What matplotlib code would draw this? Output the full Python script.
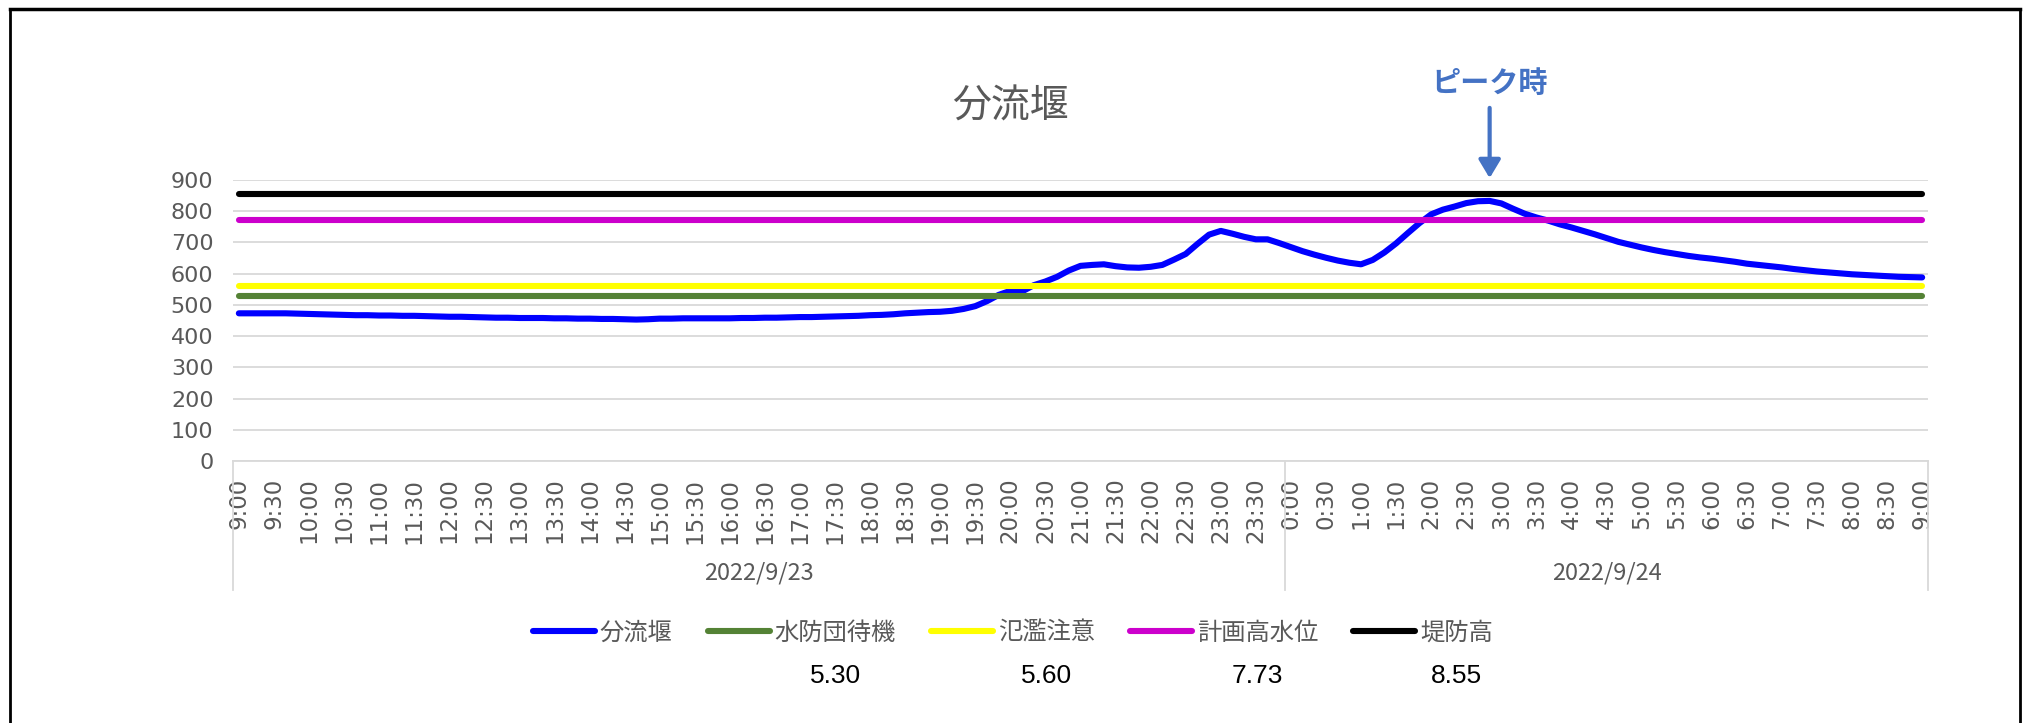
import numpy as np
import pandas as pd
import matplotlib
matplotlib.use("Agg")
import matplotlib.pyplot as plt
from matplotlib.lines import Line2D

plt.rcParams['font.family'] = ['Noto Sans CJK JP', 'DejaVu Sans']

# 10-minute readings, 2022/9/23 9:00 -> 2022/9/24 9:00
times = pd.date_range('2022-09-23 09:00', '2022-09-24 09:00', freq='10min')
bunryuzeki = [
    473, 473, 473, 473, 473, 472,
    471, 470, 469, 468, 467, 467,
    466, 466, 465, 465, 464, 463,
    462, 462, 461, 460, 459, 459,
    458, 458, 458, 457, 457, 456,
    456, 455, 455, 454, 453, 454,
    456, 456, 457, 457, 457, 457,
    457, 458, 458, 459, 459, 460,
    461, 461, 462, 463, 464, 465,
    467, 468, 470, 473, 475, 477,
    478, 481, 487, 496, 512, 532,
    545, 543, 563, 575, 590, 610,
    625, 628, 630, 624, 620, 619,
    622, 628, 645, 663, 695, 725,
    737, 728, 718, 710, 710, 698,
    685, 672, 661, 651, 642, 635,
    630, 644, 668, 697, 730, 762,
    790, 805, 815, 826, 832, 833,
    825, 808, 792, 780, 770, 758,
    748, 737, 726, 714, 702, 693,
    684, 676, 669, 663, 657, 652,
    648, 643, 638, 632, 628, 624,
    620, 615, 611, 607, 604, 601,
    598, 596, 594, 592, 590, 589,
    588,
]

level_names = ['水防団待機', '氾濫注意', '計画高水位', '堤防高']
level_values = [5.30, 5.60, 7.73, 8.55]
level_colors = ['#548235', '#FFFF00', '#CC00CC', '#000000']

W, H = 2026, 723
fig = plt.figure(figsize=(W / 100, H / 100), dpi=100)
ax = fig.add_axes([233 / W, (H - 461) / H, (1928 - 233) / W, 281 / H])

x = np.arange(len(times))
ax.plot(x, bunryuzeki, color='#0000FF', lw=4.4, solid_capstyle='round',
        solid_joinstyle='round', label='分流堰')
for name, val, col in zip(level_names, level_values, level_colors):
    ax.plot(x, np.full(len(x), val * 100), color=col, lw=4.4,
            solid_capstyle='round', label=name)

ax.set_xlim(-0.5, len(x) - 0.5)
ax.set_ylim(0, 900)
ax.set_yticks(range(0, 901, 100))
ax.grid(axis='y', color='#d9d9d9', lw=1.3)
ax.set_axisbelow(True)
for s in ['top', 'left', 'right']:
    ax.spines[s].set_visible(False)
ax.spines['bottom'].set_color('#d9d9d9')
ax.spines['bottom'].set_linewidth(1.3)

ax.set_xticks(x[::3])
ax.set_xticklabels([f'{t.hour}:{t.minute:02d}' for t in times[::3]],
                   rotation=90, fontfamily='DejaVu Sans')
for t in ax.get_yticklabels():
    t.set_fontfamily('DejaVu Sans')
ax.tick_params(axis='x', length=0, pad=12, labelsize=16.5, labelcolor='#595959')
ax.tick_params(axis='y', length=0, pad=14, labelsize=16, labelcolor='#595959')

# date groups under the time labels
dates = times.normalize()
trans = ax.get_xaxis_transform()
bounds = [-0.5]
for d in dates.unique():
    idx = np.where(dates == d)[0]
    lo, hi = idx[0] - 0.5, idx[-1] + 0.5
    ax.text((lo + hi) / 2, -0.399, f'{d.year}/{d.month}/{d.day}', transform=trans,
            ha='center', va='center', fontsize=17, color='#595959')
    bounds.append(hi)
for b in bounds:
    ax.plot([b, b], [0, -0.459], transform=trans, clip_on=False,
            color='#d9d9d9', lw=1.3)

# peak marker
peak = int(np.argmax(bunryuzeki))
ax.annotate('', xy=(peak, 906), xytext=(peak, 1131), annotation_clip=False,
            arrowprops=dict(arrowstyle='-|>,head_length=0.55,head_width=0.33',
                            mutation_scale=20, color='#4472C4', lw=3,
                            shrinkA=0, shrinkB=0))
ax.text(peak, 1211, 'ピーク時', ha='center', va='center', fontsize=21,
        fontweight='bold', color='#4472C4', clip_on=False)

fig.text(0.4985, 0.853, '分流堰', ha='center', va='center', fontsize=28,
         color='#595959')

leg = fig.legend(loc='center', bbox_to_anchor=(0.5, 0.1245), ncol=5,
                 frameon=False, fontsize=17.5, handlelength=2.55,
                 handletextpad=0.2, columnspacing=1.45)
for t in leg.get_texts():
    t.set_color('#595959')

fig.canvas.draw()
for t, val in zip(leg.get_texts()[1:], level_values):
    bb = t.get_window_extent()
    fig.text((bb.x0 + bb.x1) / 2 / W, 0.065, f'{val:.2f}', ha='center',
             va='center', fontsize=19, fontfamily='Liberation Sans', color='black')

# outer frame (bottom edge cut off)
top = 1 - 9 / H
fig.add_artist(Line2D([10 / W, 2020 / W], [top, top], color='black', lw=2.5))
fig.add_artist(Line2D([10 / W, 10 / W], [0, top], color='black', lw=2))
fig.add_artist(Line2D([2020 / W, 2020 / W], [0, top], color='black', lw=2))

fig.savefig('out.png', dpi=100)
